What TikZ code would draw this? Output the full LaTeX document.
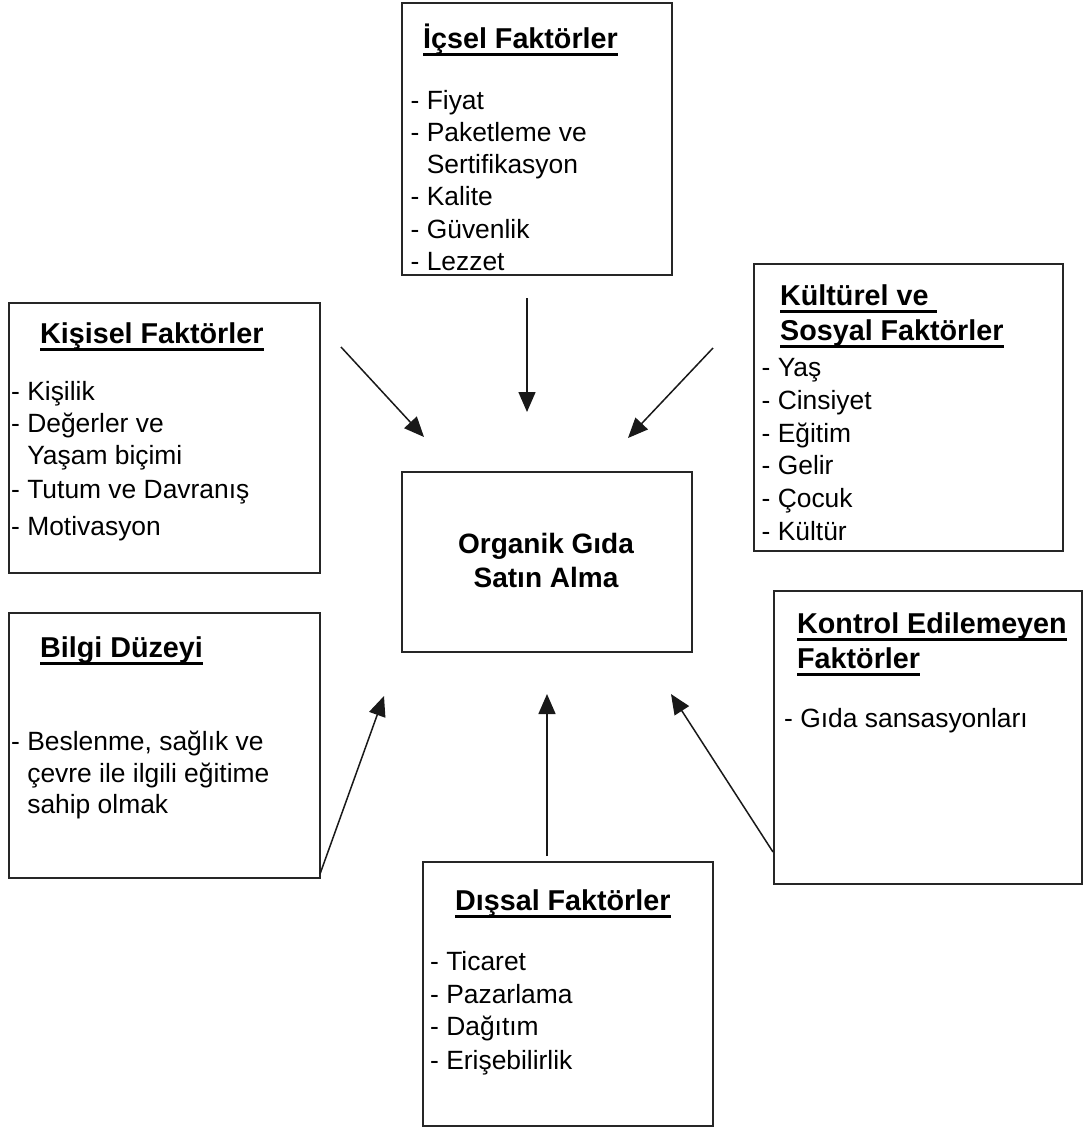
\documentclass[tikz,border=0pt]{standalone}
\usepackage{fontspec}
\setmainfont{Liberation Sans}
\usetikzlibrary{arrows.meta}

% thick underline for the box headings
\newsavebox\ulbox
\newcommand\ulttl[1]{\sbox\ulbox{#1}\rlap{\rule[-8pt]{\wd\ulbox}{3.5pt}}\usebox\ulbox}

\tikzset{
  box/.style={rectangle, draw=black!85, line width=1.6pt, inner sep=0pt},
  item/.style={anchor=base west, inner sep=0pt, font=\fontsize{26.4}{31}\selectfont},
  ttl/.style={anchor=base west, inner sep=0pt, font=\bfseries\fontsize{28.7}{34}\selectfont},
  mid/.style={anchor=base, inner sep=0pt, font=\bfseries\fontsize{28}{34}\selectfont},
  flow/.style={draw=black!90, line width=1.5pt, -{Triangle[length=20pt,width=17pt]}}
}

\begin{document}
\begin{tikzpicture}[x=1pt, y=-1pt]
\path[fill=white, use as bounding box] (0,0) rectangle (1084,1128);

% boxes
\node[box, minimum width=270pt, minimum height=272pt] (ic) at (537,139) {};
\node[box, minimum width=311pt, minimum height=270pt] (ks) at (164.5,438) {};
\node[box, minimum width=309pt, minimum height=287pt] (kl) at (908.5,407.5) {};
\node[box, minimum width=290pt, minimum height=180pt] (og) at (547,562) {};
\node[box, minimum width=311pt, minimum height=265pt] (bd) at (164.5,745.5) {};
\node[box, minimum width=308pt, minimum height=293pt] (ke) at (928,737.5) {};
\node[box, minimum width=290pt, minimum height=264pt] (ds) at (568,994) {};

% centre
\node[mid] (og1) at (546,553) {Organik Gıda};
\node[mid] (og2) at (546,587) {Satın Alma};

% İçsel Faktörler
\node[ttl] (icT) at (423,48) {\ulttl{İçsel Faktörler}};
\foreach \y/\t [count=\i] in {109/{- Fiyat}, 141.5/{- Paketleme ve},
    173.5/{\phantom{- }Sertifikasyon}, 205.5/{- Kalite}, 238/{- Güvenlik}, 270/{- Lezzet}}
  \node[item] (ic\i) at (410.5,\y) {\t};

% Kişisel Faktörler
\node[ttl] (ksT) at (40,343) {\ulttl{Kişisel Faktörler}};
\foreach \y/\t [count=\i] in {400/{- Kişilik}, 432/{- Değerler ve},
    464/{\phantom{- }Yaşam biçimi}, 498/{- Tutum ve Davranış}, 535/{- Motivasyon}}
  \node[item] (ks\i) at (11,\y) {\t};

% Kültürel ve Sosyal Faktörler
\node[ttl] (klT1) at (780,305) {\ulttl{Kültürel ve\ }};
\node[ttl] (klT2) at (780,340) {\ulttl{Sosyal Faktörler}};
\foreach \y/\t [count=\i] in {376/{- Yaş}, 409/{- Cinsiyet}, 442/{- Eğitim},
    474.5/{- Gelir}, 507/{- Çocuk}, 540/{- Kültür}}
  \node[item] (kl\i) at (761.5,\y) {\t};

% Bilgi Düzeyi
\node[ttl] (bdT) at (40,657) {\ulttl{Bilgi Düzeyi}};
\foreach \y/\t [count=\i] in {750/{- Beslenme, sağlık ve},
    782/{\phantom{- }çevre ile ilgili eğitime}, 813/{\phantom{- }sahip olmak}}
  \node[item] (bd\i) at (11,\y) {\t};

% Kontrol Edilemeyen Faktörler
\node[ttl] (keT1) at (797,633) {\ulttl{Kontrol Edilemeyen}};
\node[ttl] (keT2) at (797,668) {\ulttl{Faktörler}};
\node[item] (ke1) at (784,727) {- Gıda sansasyonları};

% Dışsal Faktörler
\node[ttl] (dsT) at (455,910) {\ulttl{Dışsal Faktörler}};
\foreach \y/\t [count=\i] in {970/{- Ticaret}, 1003/{- Pazarlama},
    1035/{- Dağıtım}, 1069/{- Erişebilirlik}}
  \node[item] (ds\i) at (430,\y) {\t};

% arrow end points
\coordinate (icA) at (527,298);   \coordinate (ogN) at (527,412);
\coordinate (ksA) at (341,347);   \coordinate (ogNW) at (424,437);
\coordinate (klA) at (713,348);   \coordinate (ogNE) at (628,438);
\coordinate (bdA) at (320,874);   \coordinate (ogSW) at (384,696);
\coordinate (dsA) at (547,856);   \coordinate (ogS) at (547,694);
\coordinate (keA) at (773,852);   \coordinate (ogSE) at (671,694);

% arrows
\draw[flow] (icA) -- (ogN);
\draw[flow] (ksA) -- (ogNW);
\draw[flow] (klA) -- (ogNE);
\draw[flow] (bdA) -- (ogSW);
\draw[flow] (dsA) -- (ogS);
\draw[flow] (keA) -- (ogSE);
\end{tikzpicture}
\end{document}
